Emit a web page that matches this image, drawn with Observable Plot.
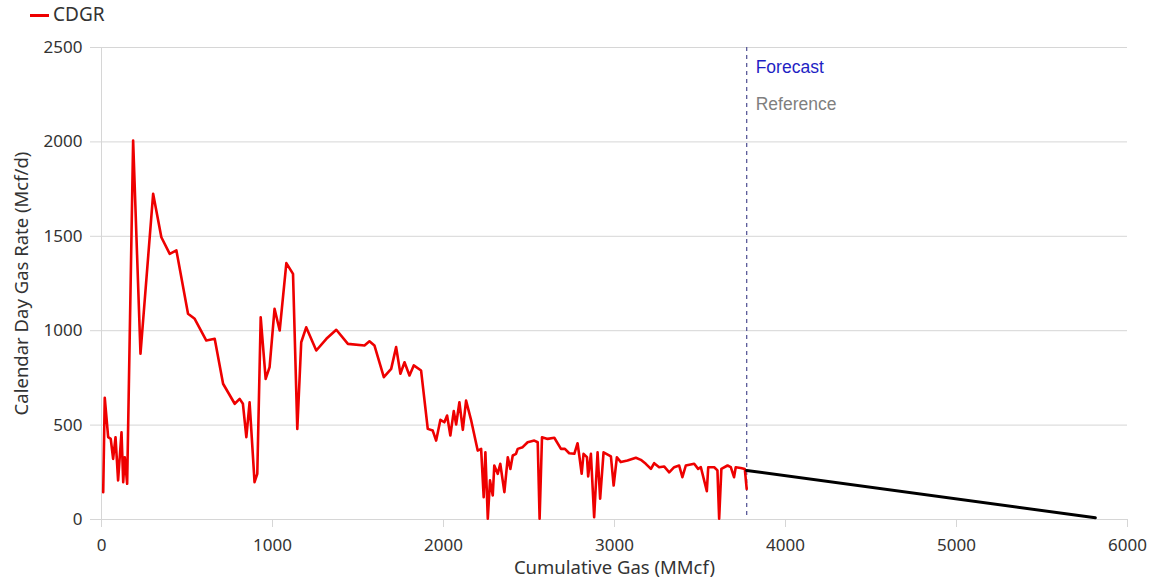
<!DOCTYPE html>
<html>
<head>
<meta charset="utf-8">
<script src="https://cdn.jsdelivr.net/npm/d3@7"></script>
<script src="https://cdn.jsdelivr.net/npm/@observablehq/plot@0.6"></script>
<style>
  html, body { margin: 0; padding: 0; background: #fff; }
  #wrap { width: 1169px; height: 580px; position: relative; font-family: "Noto Sans", "Open Sans", sans-serif; }
  #legend { height: 30px; position: relative; }
  #legend .sw { position: absolute; left: 30px; top: 14px; width: 19px; height: 3px; background: #ee0000; }
  #legend .lb { position: absolute; left: 53px; top: 1px; font-size: 19px; line-height: 26px; color: #333; }
</style>
</head>
<body>
<div id="wrap">
  <div id="legend"><span class="sw"></span><span class="lb">CDGR</span></div>
  <div id="chart"></div>
</div>
<script>
const cumGas = [10,19,39,54,68,82,97,117,127,136,150,185,228,302,350,399,438,506,545,613,662,711,779,808,827,847,866,895,911,931,960,983,1012,1042,1081,1120,1145,1168,1197,1256,1315,1373,1441,1538,1567,1596,1651,1694,1723,1748,1772,1801,1826,1869,1908,1937,1957,1982,2005,2021,2040,2060,2074,2093,2113,2132,2161,2200,2220,2235,2245,2259,2272,2288,2297,2317,2332,2356,2376,2391,2405,2424,2434,2463,2492,2531,2551,2562,2576,2609,2648,2687,2710,2735,2765,2784,2794,2808,2819,2839,2846,2862,2881,2901,2916,2936,2979,2995,3014,3037,3076,3125,3154,3183,3213,3232,3261,3290,3320,3349,3378,3397,3417,3466,3489,3505,3540,3548,3583,3602,3612,3625,3661,3680,3699,3709,3738,3762,3773];
const cdgr = [145,645,436,427,321,436,207,462,198,330,189,2007,878,1725,1495,1407,1425,1090,1063,948,957,719,613,639,613,436,621,198,242,1071,745,807,1116,1001,1358,1301,480,939,1018,895,957,1005,930,922,944,922,754,798,913,772,833,763,816,789,480,471,418,528,515,551,445,574,503,621,475,630,528,365,374,118,356,4,207,127,286,242,295,145,330,268,339,348,374,383,409,418,409,4,436,427,433,374,374,351,348,404,339,242,348,330,228,348,12,356,110,356,334,180,330,304,312,327,316,295,268,298,277,281,250,277,286,224,286,295,268,277,150,277,277,260,4,268,286,277,224,277,273,268,162];
const forecastGas = [3773, 5812];
const forecastRate = [260, 9];
const forecastAt = 3773;
const xTicks = [0,1000,2000,3000,4000,5000,6000];
const yTicks = [0,500,1000,1500,2000,2500];
const xTitle = "Cumulative Gas (MMcf)";
const yTitle = "Calendar Day Gas Rate (Mcf/d)";

const hist = cumGas.map((x, i) => ({x, y: cdgr[i]}));
const fc = forecastGas.map((x, i) => ({x, y: forecastRate[i]}));

const chart = Plot.plot({
  width: 1169,
  height: 550,
  marginLeft: 101,
  marginRight: 42,
  marginTop: 17,
  marginBottom: 61,
  style: {fontFamily: "'Noto Sans', 'Open Sans', sans-serif", fontSize: "17px", color: "#333", background: "#fff"},
  x: {domain: [0, 6000]},
  y: {domain: [0, 2500]},
  marks: [
    Plot.gridY(yTicks, {stroke: "#d6d6d6", strokeOpacity: 1, strokeWidth: 1}),
    Plot.ruleX([0], {stroke: "#d6d6d6", strokeWidth: 1}),
    Plot.axisY(yTicks, {tickSize: 11, tickPadding: 8, stroke: "#d6d6d6", fill: "#333", fontSize: 17,
      tickFormat: d => String(d), label: null}),
    Plot.axisX(xTicks, {tickSize: 8, tickPadding: 11, stroke: "#d6d6d6", fill: "#333", fontSize: 17,
      tickFormat: d => String(d), label: null}),
    Plot.text([xTitle], {frameAnchor: "bottom", dy: 48.5, lineAnchor: "middle", textAnchor: "middle", fill: "#333", fontSize: 18.5}),
    Plot.text([yTitle], {frameAnchor: "left", dx: -79, rotate: -90, textAnchor: "middle", lineAnchor: "middle", fill: "#333", fontSize: 18.5}),
    Plot.ruleX([forecastAt], {stroke: "#5a5a9a", strokeWidth: 1.3, strokeDasharray: "4,4"}),
    Plot.line(hist, {x: "x", y: "y", stroke: "#ee0000", strokeWidth: 2.6, strokeLinejoin: "round"}),
    Plot.line(fc, {x: "x", y: "y", stroke: "#000", strokeWidth: 3}),
    Plot.text(["Forecast"], {x: () => forecastAt, frameAnchor: "top", dx: 9, dy: 13, textAnchor: "start",
      fill: "#1f1fc4", fontSize: 17.5, fontFamily: "'Liberation Sans', Arial, sans-serif"}),
    Plot.text(["Reference"], {x: () => forecastAt, frameAnchor: "top", dx: 9, dy: 50, textAnchor: "start",
      fill: "#7f7f7f", fontSize: 17.5, fontFamily: "'Liberation Sans', Arial, sans-serif"})
  ]
});
document.getElementById("chart").appendChild(chart);
</script>
</body>
</html>
